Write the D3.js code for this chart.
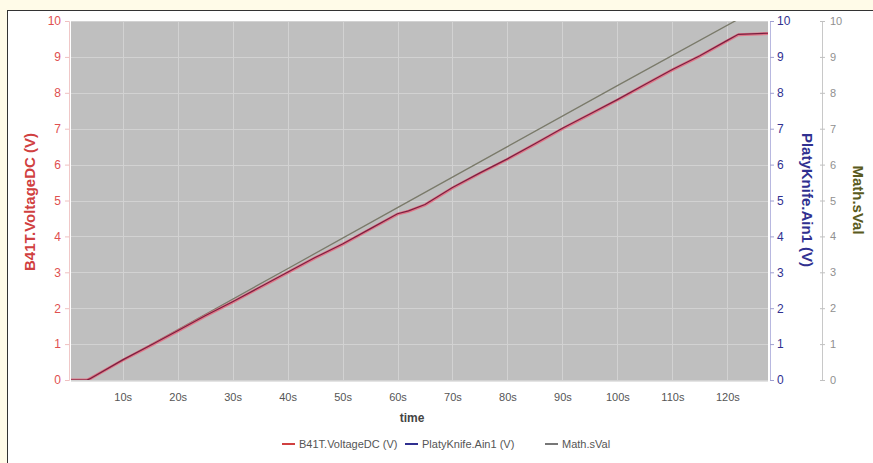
<!DOCTYPE html>
<html><head><meta charset="utf-8">
<script src="https://cdn.jsdelivr.net/npm/d3@7/dist/d3.min.js"></script>
<style>body{margin:0;background:#fff}svg{display:block;font-family:"Liberation Sans",Arial,sans-serif}</style>
</head><body><svg id="c" width="873" height="463"></svg>
<script>
const xTicks = [10,20,30,40,50,60,70,80,90,100,110,120];
const yTicks = [0,1,2,3,4,5,6,7,8,9,10];
// B41T.VoltageDC (V): [time s, value]
const redT = [0.5,3.5,4,10,15,20,25,30,35,40,45,50,55,60,62,65,70,75,80,85,90,95,100,105,110,115,120,122,127.5];
const redV = [0,0,0.03,0.55,0.95,1.36,1.78,2.17,2.58,2.99,3.40,3.78,4.20,4.62,4.70,4.88,5.35,5.76,6.15,6.57,7.00,7.40,7.80,8.22,8.64,9.02,9.45,9.62,9.65];
// PlatyKnife.Ain1 (V)
const blueT = [0.5,3.5,4,10,15,20,25,30,35,40,45,50,55,60,62,65,70,75,80,85,90,95,100,105,110,115,120,122,127.5];
const blueV = [0,0,0.03,0.56,0.96,1.37,1.79,2.18,2.59,3.00,3.41,3.79,4.21,4.63,4.71,4.89,5.36,5.77,6.16,6.58,7.01,7.41,7.81,8.23,8.65,9.03,9.46,9.63,9.66];
// Math.sVal
const grayT = [0.5,3.5,20,40,60,80,100,122];
const grayV = [0,0,1.40,3.10,4.80,6.50,8.20,10.05];

const svg = d3.select("#c");
const L=71, R=768, T=21, B=380;
svg.append("rect").attr("x",0).attr("y",0).attr("width",873).attr("height",463).attr("fill","#fffbe8");
svg.append("rect").attr("x",7.5).attr("y",10.5).attr("width",880).attr("height",470).attr("fill","#fff").attr("stroke","#333").attr("stroke-width",1);

const x = d3.scaleLinear().domain([0.6,127.4]).range([L,R]);
const y = d3.scaleLinear().domain([0,10]).range([B,T]);

svg.append("rect").attr("x",L).attr("y",T).attr("width",R-L).attr("height",B-T).attr("fill","#bfbfbf");
const g = svg.append("g");
g.selectAll(".vg").data(xTicks).join("line").attr("x1",d=>Math.round(x(d))+0.5).attr("x2",d=>Math.round(x(d))+0.5).attr("y1",T).attr("y2",B).attr("stroke","#d2d2d2").attr("stroke-width",1);
g.selectAll(".hg").data(yTicks).join("line").attr("y1",d=>Math.round(y(d))+0.5).attr("y2",d=>Math.round(y(d))+0.5).attr("x1",L).attr("x2",R).attr("stroke","#d2d2d2").attr("stroke-width",1);
svg.append("line").attr("x1",L).attr("x2",R).attr("y1",B+1.5).attr("y2",B+1.5).attr("stroke","#e4e4e4");

svg.append("clipPath").attr("id","cp").append("rect").attr("x",L).attr("y",T).attr("width",R-L).attr("height",B-T);
const line = d3.line().x(d=>x(d[0])).y(d=>y(d[1]));
const lines = svg.append("g").attr("clip-path","url(#cp)");
lines.append("path").datum(d3.zip(grayT,grayV)).attr("d",line).attr("fill","none").attr("stroke","#7a7a6a").attr("stroke-width",1.3);
lines.append("path").datum(d3.zip(redT,redV)).attr("d",line).attr("fill","none").attr("stroke","#e8647a").attr("stroke-width",3).attr("stroke-opacity",0.8);
lines.append("path").datum(d3.zip(blueT,blueV)).attr("d",line).attr("fill","none").attr("stroke","#7a2040").attr("stroke-width",1.2);

const la = svg.append("g").attr("transform",`translate(${L-2},0)`).call(d3.axisLeft(y).tickValues(yTicks).tickSize(4).tickPadding(4));
la.select(".domain").attr("stroke","#f0c8c8");
la.selectAll(".tick line").attr("stroke","#f0c0c0");
la.selectAll("text").attr("fill","#e05050").attr("font-size",12);
const ra = svg.append("g").attr("transform",`translate(${R+2},0)`).call(d3.axisRight(y).tickValues(yTicks).tickSize(4).tickPadding(3));
ra.select(".domain").attr("stroke","#b8b8e0");
ra.selectAll(".tick line").attr("stroke","#a0a0d0");
ra.selectAll("text").attr("fill","#303090").attr("font-size",12);
const ma = svg.append("g").attr("transform",`translate(822,0)`).call(d3.axisRight(y).tickValues(yTicks).tickSize(3).tickPadding(5));
ma.select(".domain").attr("stroke","#c8c8c8");
ma.selectAll(".tick line").attr("stroke","#c0c0c0").attr("x1",-2);
ma.selectAll("text").attr("fill","#909090").attr("font-size",11);
const xa = svg.append("g").attr("transform",`translate(0,${B})`).call(d3.axisBottom(x).tickValues(xTicks).tickSize(0).tickPadding(13).tickFormat(d=>d+"s"));
xa.select(".domain").remove();
xa.selectAll("text").attr("fill","#555").attr("font-size",11);

svg.append("text").attr("x",412).attr("y",422).attr("text-anchor","middle").attr("font-weight","bold").attr("font-size",12).attr("fill","#444").text("time");
svg.append("text").attr("transform","translate(35,202) rotate(-90)").attr("text-anchor","middle").attr("font-weight","bold").attr("font-size",15).attr("fill","#d04040").text("B41T.VoltageDC (V)");
svg.append("text").attr("transform","translate(802,200) rotate(90)").attr("text-anchor","middle").attr("font-weight","bold").attr("font-size",15).attr("fill","#303090").text("PlatyKnife.Ain1 (V)");
svg.append("text").attr("transform","translate(853,200) rotate(90)").attr("text-anchor","middle").attr("font-weight","bold").attr("font-size",15).attr("fill","#5a5a20").text("Math.sVal");

const leg = [{n:"B41T.VoltageDC (V)",c:"#d04040",x:282},{n:"PlatyKnife.Ain1 (V)",c:"#303090",x:405},{n:"Math.sVal",c:"#777",x:545}];
const lg = svg.append("g").selectAll("g").data(leg).join("g").attr("transform",d=>`translate(${d.x},448)`);
lg.append("line").attr("x1",0).attr("x2",13).attr("y1",-4).attr("y2",-4).attr("stroke",d=>d.c).attr("stroke-width",2);
lg.append("text").attr("x",17).attr("y",0).attr("font-size",11).attr("fill","#555").text(d=>d.n);
</script></body></html>
